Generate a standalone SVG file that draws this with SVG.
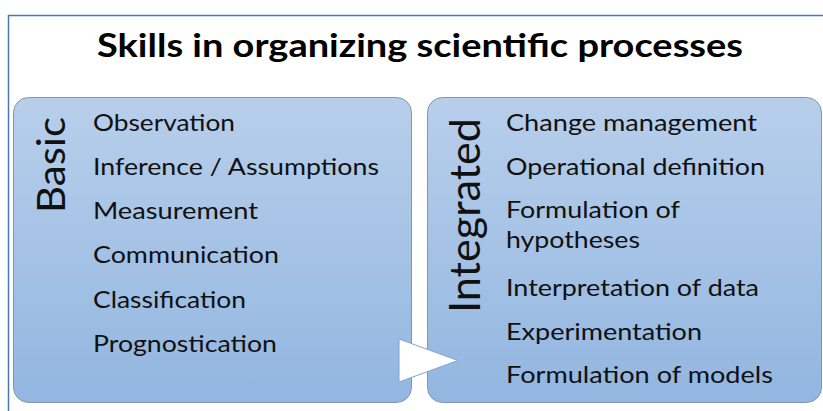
<svg xmlns="http://www.w3.org/2000/svg" width="823" height="411" viewBox="0 0 823 411">
  <defs>
    <linearGradient id="boxGrad" x1="0" y1="0" x2="0" y2="1">
      <stop offset="0" stop-color="#b8cfeb"/>
      <stop offset="1" stop-color="#92b6e0"/>
    </linearGradient>
    <style>
      .box { fill: url(#boxGrad); stroke: #8496ad; stroke-width: 1; }
      .item { font-family: Lato, "Open Sans", "Liberation Sans", sans-serif; font-size: 24px; fill: #111111; }
      .side { font-family: Lato, "Open Sans", "Liberation Sans", sans-serif; fill: #111111; }
      .title { font-family: Lato, "Open Sans", "Liberation Sans", sans-serif; font-weight: bold; font-size: 32px; fill: #000000; }
      .frame { fill: none; stroke: #4a78b2; stroke-width: 1.5; }
      .arrow { fill: #ffffff; stroke: #7aa6da; stroke-width: 1; stroke-linejoin: miter; }
    </style>
  </defs>
  <rect x="0" y="0" width="823" height="411" fill="#ffffff"/>
  <path class="frame" d="M8.5 411 V15.5 H823"/>
  <text class="title" x="97" y="57" textLength="646" lengthAdjust="spacingAndGlyphs">Skills in organizing scientific processes</text>

  <g id="basic">
    <rect class="box" x="13.5" y="97.5" width="398" height="305" rx="15" ry="15"/>
    <text class="side" font-size="38" transform="translate(65 213) rotate(-90)" textLength="96" lengthAdjust="spacingAndGlyphs">Basic</text>
    <text class="item" x="93" y="131" textLength="142" lengthAdjust="spacingAndGlyphs">Observation</text>
    <text class="item" x="93" y="175" textLength="286" lengthAdjust="spacingAndGlyphs">Inference / Assumptions</text>
    <text class="item" x="93" y="219" textLength="165" lengthAdjust="spacingAndGlyphs">Measurement</text>
    <text class="item" x="93" y="263" textLength="186" lengthAdjust="spacingAndGlyphs">Communication</text>
    <text class="item" x="93" y="308" textLength="153" lengthAdjust="spacingAndGlyphs">Classification</text>
    <text class="item" x="93" y="352" textLength="184" lengthAdjust="spacingAndGlyphs">Prognostication</text>
  </g>

  <g id="integrated">
    <rect class="box" x="427.5" y="97.5" width="394" height="305" rx="15" ry="15"/>
    <text class="side" font-size="42" transform="translate(480 313) rotate(-90)" textLength="195" lengthAdjust="spacingAndGlyphs">Integrated</text>
    <text class="item" x="506" y="131" textLength="251" lengthAdjust="spacingAndGlyphs">Change management</text>
    <text class="item" x="506" y="175" textLength="259" lengthAdjust="spacingAndGlyphs">Operational definition</text>
    <text class="item" x="506" y="218" textLength="174" lengthAdjust="spacingAndGlyphs">Formulation of</text>
    <text class="item" x="506" y="248" textLength="134" lengthAdjust="spacingAndGlyphs">hypotheses</text>
    <text class="item" x="506" y="296" textLength="253" lengthAdjust="spacingAndGlyphs">Interpretation of data</text>
    <text class="item" x="506" y="340" textLength="196" lengthAdjust="spacingAndGlyphs">Experimentation</text>
    <text class="item" x="506" y="383" textLength="267" lengthAdjust="spacingAndGlyphs">Formulation of models</text>
  </g>

  <g id="connectors">
    <path class="arrow" d="M399 339 L458 360.5 L399 382 Z"/>
  </g>
</svg>
